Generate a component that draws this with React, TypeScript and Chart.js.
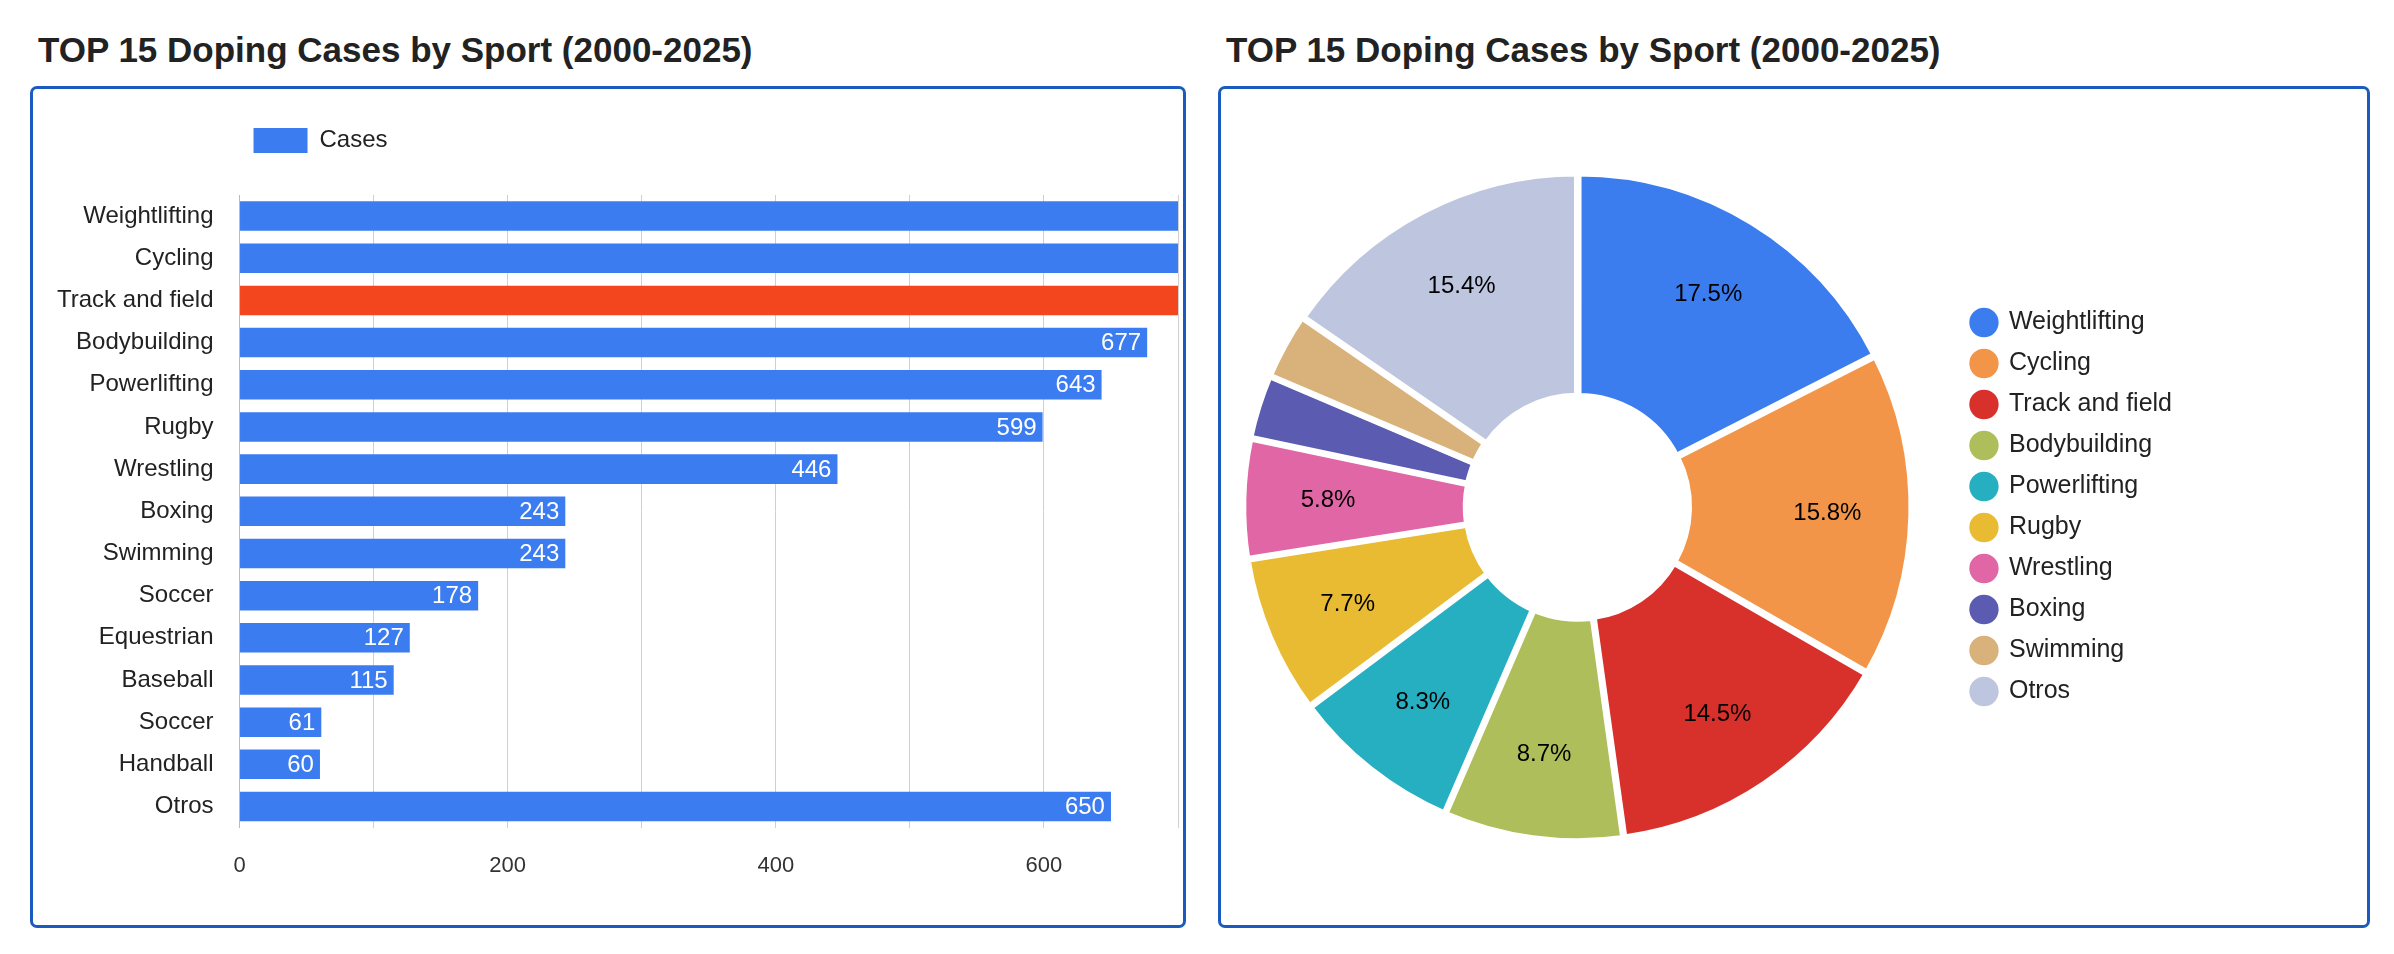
import React, { useEffect, useRef } from "react";
import Chart from "chart.js/auto";

const barCategories = ["Weightlifting","Cycling","Track and field","Bodybuilding","Powerlifting","Rugby","Wrestling","Boxing","Swimming","Soccer","Equestrian","Baseball","Soccer","Handball","Otros"];
const barValues = [1360, 1230, 1130, 677, 643, 599, 446, 243, 243, 178, 127, 115, 61, 60, 650];
const barColors = barValues.map((_, i) => (i === 2 ? "#f3461f" : "#3b7cf0"));
const xTicks = [0, 200, 400, 600];

const pieLabels = ["Weightlifting","Cycling","Track and field","Bodybuilding","Powerlifting","Rugby","Wrestling","Boxing","Swimming","Otros"];
const pieValues = [17.5, 15.8, 14.5, 8.7, 8.3, 7.7, 5.8, 3.1, 3.2, 15.4];
const pieColors = ["#3b7def","#f39549","#d8302b","#adbe5a","#26aec1","#e8bb33","#e066a6","#5b5cb1","#d8b27a","#bec5de"];

const FONT = "'Liberation Sans', Arial, sans-serif";

const barLabelPlugin = {
  id: "barLabels",
  afterDatasetsDraw(chart: any) {
    const meta = chart.getDatasetMeta(0);
    const ctx = chart.ctx;
    const max = chart.scales.x.max;
    ctx.save();
    ctx.font = `24px ${FONT}`;
    ctx.fillStyle = "#fff";
    ctx.textAlign = "right";
    ctx.textBaseline = "middle";
    meta.data.forEach((el: any, i: number) => {
      const v = barValues[i];
      if (v > max) return;
      ctx.fillText(String(v), el.x - 6, el.y + 1);
    });
    ctx.restore();
  },
};

const legendSpacePlugin = {
  id: "legendSpace",
  beforeInit(chart: any) {
    const lg = chart.legend;
    if (!lg) return;
    const orig = lg.fit;
    lg.fit = function () {
      orig.call(this);
      this.height += 32;
    };
  },
};

const pieLabelPlugin = {
  id: "pieLabels",
  afterDatasetsDraw(chart: any) {
    const meta = chart.getDatasetMeta(0);
    const ctx = chart.ctx;
    const total = pieValues.reduce((a, b) => a + b, 0);
    ctx.save();
    ctx.font = `24px ${FONT}`;
    ctx.fillStyle = "#000";
    ctx.textAlign = "center";
    ctx.textBaseline = "middle";
    meta.data.forEach((arc: any, i: number) => {
      const pct = (pieValues[i] / total) * 100;
      if (pct < 4) return;
      const a = (arc.startAngle + arc.endAngle) / 2;
      const r = arc.innerRadius + (arc.outerRadius - arc.innerRadius) * 0.63;
      ctx.fillText(pct.toFixed(1) + "%", arc.x + Math.cos(a) * r, arc.y + Math.sin(a) * r);
    });
    ctx.restore();
  },
};

const boxStyle: React.CSSProperties = {
  position: "absolute",
  border: "3px solid #1a5bbf",
  borderRadius: 7,
  boxSizing: "border-box",
  pointerEvents: "none",
};
const titleStyle: React.CSSProperties = {
  position: "absolute",
  fontFamily: FONT,
  fontWeight: "bold",
  fontSize: 35,
  color: "#222",
  whiteSpace: "nowrap",
};

export default function App() {
  const barRef = useRef<HTMLCanvasElement>(null);
  const pieRef = useRef<HTMLCanvasElement>(null);

  useEffect(() => {
    Chart.defaults.font.family = FONT;
    const bar = new Chart(barRef.current!, {
      type: "bar",
      data: {
        labels: barCategories,
        datasets: [{ label: "Cases", data: barValues, backgroundColor: barColors, barPercentage: 0.7, categoryPercentage: 1 }],
      },
      options: {
        animation: false,
        responsive: false,
        indexAxis: "y",
        layout: { padding: { left: 5, right: 0, top: 25, bottom: 21 } },
        plugins: {
          legend: {
            position: "top",
            align: "start",
            fullSize: false,
            labels: { boxWidth: 54, boxHeight: 25, font: { size: 24 }, color: "#222", padding: 14 },
          },
          tooltip: { enabled: false },
        },
        scales: {
          x: {
            min: 0,
            max: 700,
            ticks: {
              stepSize: 100,
              font: { size: 22 },
              color: "#333",
              padding: 25,
              callback: (v: any) => (xTicks.includes(Number(v)) ? String(v) : ""),
            },
            grid: { color: "#d0d0d0", drawTicks: false },
            border: { display: false },
          },
          y: {
            ticks: { font: { size: 24 }, color: "#222", padding: 18, autoSkip: false },
            grid: { display: false },
            border: { color: "#bbb" },
          },
        },
      },
      plugins: [barLabelPlugin, legendSpacePlugin],
    });

    const pie = new Chart(pieRef.current!, {
      type: "doughnut",
      data: {
        labels: pieLabels,
        datasets: [{ data: pieValues, backgroundColor: pieColors, borderColor: "#fff", borderWidth: 6, offset: 6, cutout: "33%" } as any],
      },
      options: {
        animation: false,
        responsive: false,
        layout: { padding: { left: 0, right: 184, top: 80, bottom: 80 } },
        plugins: {
          legend: {
            position: "right",
            labels: { usePointStyle: true, pointStyle: "circle", boxWidth: 26, boxHeight: 26, font: { size: 25 }, color: "#222", padding: 16 },
          },
          tooltip: { enabled: false },
        },
      } as any,
      plugins: [pieLabelPlugin],
    });

    return () => {
      bar.destroy();
      pie.destroy();
    };
  }, []);

  return (
    <div style={{ position: "relative", width: 2378, height: 938 }}>
      <div style={{ ...titleStyle, left: 30, top: 22 }}>TOP 15 Doping Cases by Sport (2000-2025)</div>
      <div style={{ ...titleStyle, left: 1218, top: 22 }}>TOP 15 Doping Cases by Sport (2000-2025)</div>
      <canvas ref={barRef} width={1169} height={836} style={{ position: "absolute", left: 26, top: 81 }} />
      <canvas ref={pieRef} width={1166} height={836} style={{ position: "absolute", left: 1192, top: 81 }} />
      <div style={{ ...boxStyle, left: 22, top: 78, width: 1156, height: 842 }} />
      <div style={{ ...boxStyle, left: 1210, top: 78, width: 1152, height: 842 }} />
    </div>
  );
}
